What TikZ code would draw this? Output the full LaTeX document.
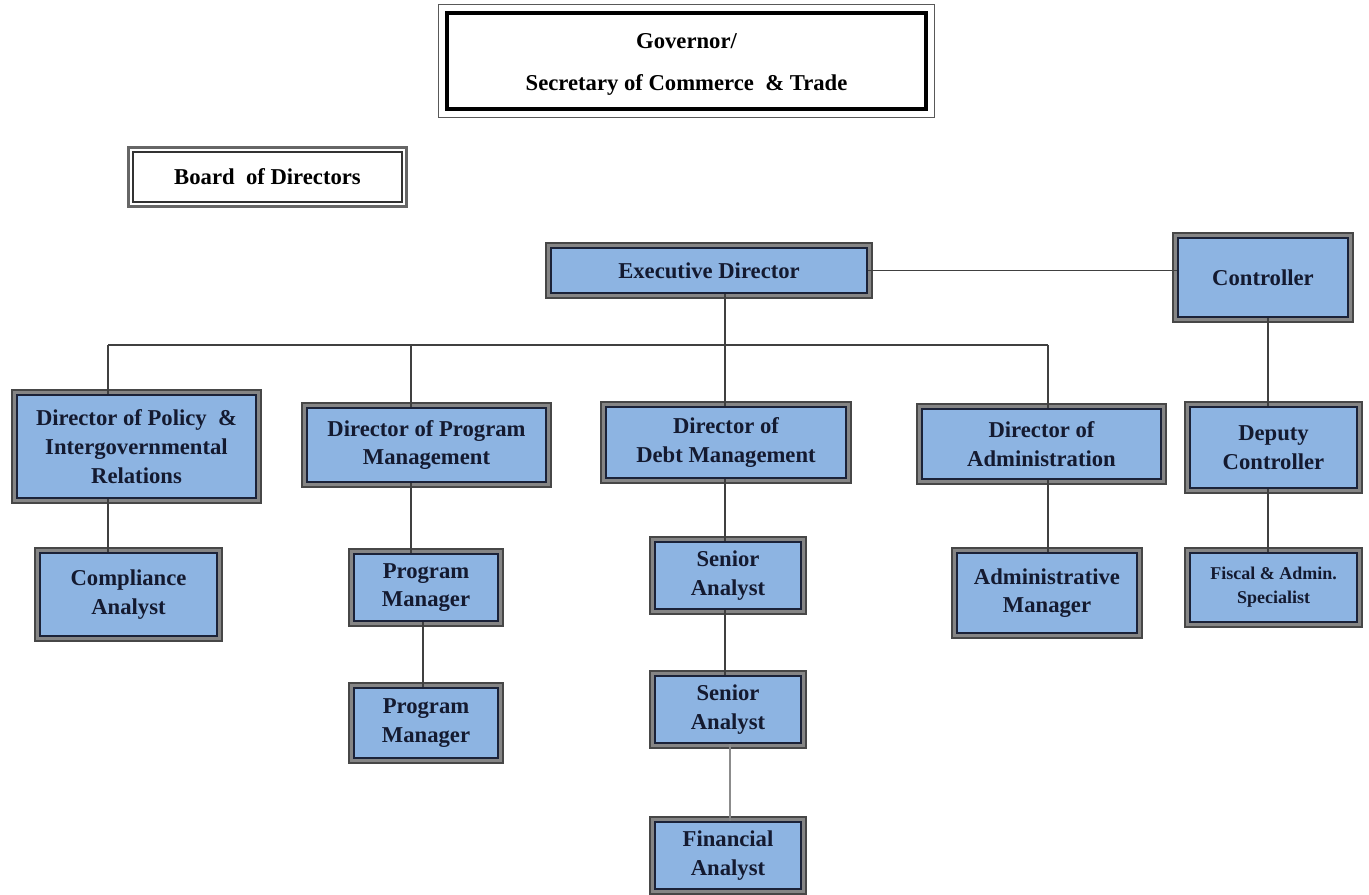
\documentclass[tikz,border=0pt]{standalone}
\usepackage{fontspec}
\setmainfont{Liberation Serif}
\usetikzlibrary{backgrounds,calc}
\definecolor{boxblue}{HTML}{8DB4E2}
\definecolor{navyline}{HTML}{1B2238}
\definecolor{txtnavy}{HTML}{141A30}
% [style]{name}{inset}{L}{T}{R}{B}{text}
\newcommand\orgbox[8][bluebox]{%
  \pgfmathsetmacro\obcx{(#4+#6)/2}%
  \pgfmathsetmacro\obcy{(#5+#7)/2}%
  \pgfmathsetmacro\obw{(#6-#4-2*#3)*0.75}%
  \pgfmathsetmacro\obh{(#7-#5-2*#3)*0.75}%
  \node[#1, minimum width=\obw pt, minimum height=\obh pt] (#2) at (\obcx,\obcy) {#8};}
\begin{document}
\begin{tikzpicture}[x=0.75pt,y=-0.75pt,
  bluebox/.style={draw=navyline, line width=1.5pt, fill=boxblue, inner sep=0pt,
    align=center, text=txtnavy, font=\fontsize{17}{21.5}\selectfont\bfseries},
  smallbox/.style={bluebox, font=\fontsize{13.5}{18}\selectfont\bfseries},
  govbox/.style={draw=black, line width=2.4pt, fill=white, inner sep=0pt,
    align=center, text=black, font=\fontsize{17}{32}\selectfont\bfseries},
  boardbox/.style={draw=black!80, line width=0.9pt, fill=white, inner sep=0pt,
    align=center, text=black, font=\fontsize{17}{21.5}\selectfont\bfseries},
  blueframe/.style={draw=black!72, line width=1.8pt, fill=black!48},
  govframe/.style={draw=black!65, line width=1.1pt},
  boardframe/.style={draw=black!60, line width=1.8pt},
  conn/.style={draw=black!75, line width=1.2pt}]
\useasboundingbox (0,0) rectangle (1369,894);

\orgbox[govbox]{gov}{8}{439}{5}{934}{117}{\raisebox{-3.5pt}{\begin{tabular}{@{}c@{}}Governor/\\Secretary of Commerce \ \& Trade\end{tabular}}}
\orgbox[boardbox]{board}{5}{128}{147}{407}{207}{Board \ of Directors}
\orgbox{exec}{5}{546}{243}{872}{298}{Executive Director}
\orgbox{ctrl}{5}{1173}{233}{1353}{322}{Controller}
\orgbox{policy}{5}{12}{390}{261}{503}{Director of Policy \ \&\\Intergovernmental\\Relations}
\orgbox{progm}{5}{302}{403}{551}{487}{Director of Program\\Management}
\orgbox{debt}{5}{601}{402}{851}{483}{Director of\\Debt Management}
\orgbox{admin}{5}{917}{404}{1166}{484}{Director of\\Administration}
\orgbox{deputy}{5}{1185}{402}{1362}{493}{Deputy\\Controller}
\orgbox{compl}{5}{35}{548}{222}{641}{Compliance\\Analyst}
\orgbox{pmone}{5}{349}{549}{503}{626}{Program\\Manager}
\orgbox{pmtwo}{5}{349}{683}{503}{763}{Program\\Manager}
\orgbox{saone}{5}{650}{537}{806}{614}{Senior\\Analyst}
\orgbox{satwo}{5}{650}{671}{806}{748}{Senior\\Analyst}
\orgbox{fin}{5}{650}{817}{806}{894}{Financial\\Analyst}
\orgbox{amgr}{5}{952}{548}{1142}{638}{Administrative\\Manager}
\orgbox[smallbox]{fiscal}{5}{1185}{548}{1362}{627}{Fiscal \& Admin.\\Specialist}

\begin{pgfonlayer}{background}
  \foreach \n in {exec,ctrl,policy,progm,debt,admin,deputy,compl,pmone,pmtwo,saone,satwo,fin,amgr,fiscal}
    \draw[blueframe] ([shift={(-3.8,-3.8)}]\n.north west) rectangle ([shift={(3.8,3.8)}]\n.south east);
  \draw[govframe] ([shift={(-7,-7)}]gov.north west) rectangle ([shift={(7,7)}]gov.south east);
  \draw[boardframe] ([shift={(-3.8,-3.8)}]board.north west) rectangle ([shift={(3.8,3.8)}]board.south east);
\end{pgfonlayer}

\coordinate (busL) at (108,345);
\coordinate (busR) at (1048,345);
\coordinate (xP) at (411,345);
\coordinate (xD) at (725,345);
\coordinate (xP2) at (423,0);
\coordinate (xF) at (730,0);
\coordinate (xC) at (1268,0);

\draw[conn] (busL) -- (busR);
\draw[conn] (busL) -- (busL |- policy.north);
\draw[conn] (xP) -- (xP |- progm.north);
\draw[conn] (exec.south -| xD) -- (xD |- debt.north);
\draw[conn] (busR) -- (busR |- admin.north);
\draw[conn] (exec.east) -- (exec.east -| ctrl.west);
\draw[conn] (ctrl.south -| xC) -- (deputy.north -| xC);
\draw[conn] (deputy.south -| xC) -- (fiscal.north -| xC);
\draw[conn] (policy.south -| busL) -- (compl.north -| busL);
\draw[conn] (progm.south -| xP) -- (pmone.north -| xP);
\draw[conn] (pmone.south -| xP2) -- (pmtwo.north -| xP2);
\draw[conn] (debt.south -| xD) -- (saone.north -| xD);
\draw[conn] (saone.south -| xD) -- (satwo.north -| xD);
\draw[conn, draw=black!45] (satwo.south -| xF) -- (fin.north -| xF);
\draw[conn] (admin.south -| busR) -- (amgr.north -| busR);
\end{tikzpicture}
\end{document}
